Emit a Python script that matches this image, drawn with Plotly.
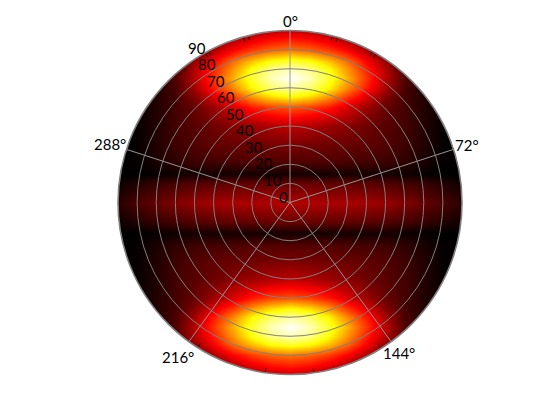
import numpy as np
import plotly.graph_objects as go

# Field values (0 = black, 0.375 = red, 0.75 = yellow, 1 = white)
x_knots = list(range(-90, 100, 10))
y_knots = [-90, -80, -74, -70, -65, -60, -55, -50, -40, -30, -22, -16, -10, 0,
           10, 15, 22, 30, 40, 50, 55, 60, 65, 70, 74, 80, 90]

def row(*half):
    # half: values at x = 0, 10, ... 90; mirrored left
    half = list(half)
    return half[:0:-1] + half

z_rows = [
    row(.30, .28, .23, .16, .09, .04, .01, .00, .00, .00),  # -90
    row(.55, .52, .46, .37, .25, .13, .05, .02, .00, .00),  # -80
    row(.80, .76, .66, .53, .37, .22, .09, .03, .01, .00),  # -74
    row(.93, .88, .76, .59, .42, .26, .11, .04, .01, .00),  # -70
    row(1.0, .93, .80, .63, .45, .27, .12, .05, .02, .00),  # -65
    row(.91, .85, .74, .57, .41, .24, .11, .05, .02, .00),  # -60
    row(.74, .69, .59, .45, .32, .19, .10, .05, .02, .00),  # -55
    row(.50, .47, .41, .32, .23, .15, .10, .05, .01, .00),  # -50
    row(.28, .26, .23, .20, .16, .13, .10, .05, .01, .00),  # -40
    row(.18, .17, .16, .15, .14, .12, .09, .05, .01, .00),  # -30
    row(.12, .12, .12, .11, .10, .09, .07, .04, .01, .00),  # -22
    row(.03, .03, .03, .03, .03, .03, .02, .01, .00, .00),  # -16
    row(.15, .15, .14, .14, .13, .12, .10, .08, .05, .02),  # -10
    row(.26, .26, .25, .25, .24, .22, .19, .15, .11, .06),  # 0
    row(.15, .15, .14, .14, .13, .12, .10, .08, .05, .02),  # 10
    row(.03, .03, .03, .03, .03, .03, .02, .01, .00, .00),  # 15
    row(.12, .12, .12, .11, .10, .09, .07, .04, .01, .00),  # 22
    row(.18, .17, .16, .15, .14, .12, .09, .05, .01, .00),  # 30
    row(.28, .26, .23, .20, .16, .13, .10, .05, .01, .00),  # 40
    row(.50, .47, .41, .32, .23, .15, .10, .05, .01, .00),  # 50
    row(.74, .69, .59, .45, .32, .19, .10, .05, .02, .00),  # 55
    row(.91, .85, .74, .57, .41, .24, .11, .04, .01, .00),  # 60
    row(1.0, .93, .80, .63, .45, .27, .12, .04, .01, .00),  # 65
    row(.93, .88, .76, .59, .42, .26, .11, .03, .01, .00),  # 70
    row(.80, .76, .66, .53, .37, .22, .09, .03, .01, .00),  # 74
    row(.55, .52, .46, .37, .25, .13, .05, .02, .00, .00),  # 80
    row(.30, .28, .23, .16, .09, .04, .01, .00, .00, .00),  # 90
]

r_ticks = [0, 10, 20, 30, 40, 50, 60, 70, 80, 90]
r_labels = ["0", "10", "20", "30", "40", "50", "60", "70", "80", "90"]
theta_ticks = [0, 72, 144, 216, 288]
theta_labels = ["0°", "72°", "144°", "216°", "288°"]
theta_label_r = [95, 97.6, 97.3, 99.8, 99.2]
rim_marks = [14.3, 16, 28.5, 30, 38.2, 148.2, 172, 188.3, 212.5, 321.6, 330.6, 331.8, 344.3, 346]

R_LABEL_ANGLE = 330
RING = "#808080"
SPOKE = "#969696"
FONT = "Lato"

hot = [[0, "rgb(0,0,0)"], [0.375, "rgb(255,0,0)"], [0.75, "rgb(255,255,0)"], [1, "rgb(255,255,255)"]]

W, H = 560, 420
PAGE = 8  # the page body adds this margin in front of the figure
CX, CY, RPX = 290 - PAGE, 202.5 - PAGE, 172
U = 90 / RPX  # data units per pixel

fig = go.Figure()

fig.add_trace(go.Heatmap(x=x_knots, y=y_knots, z=z_rows, zmin=0, zmax=1, zsmooth="best",
                         colorscale=hot, showscale=False, hoverinfo="skip"))

# White surround leaving only the disk of the field visible (one keyhole outline)
t = np.linspace(0, -2 * np.pi, 721)
xr = [170, 170, -170, -170, 170, 170]
yr = [0, 130, 130, -130, -130, 0]
fig.add_trace(go.Scatter(x=xr + list(90 * np.cos(t)) + [170],
                         y=yr + list(90 * np.sin(t)) + [0],
                         mode="none", fill="toself", fillcolor="white",
                         hoverinfo="skip", showlegend=False))

# Short rim marks
mr, mt = [], []
for a in rim_marks:
    mr += [87.6, 89.4, None]
    mt += [a, a, None]
fig.add_trace(go.Scatterpolar(r=mr, theta=mt, mode="lines", line=dict(color="#111111", width=1),
                              hoverinfo="skip", showlegend=False))

annotations = []
a0 = np.deg2rad(R_LABEL_ANGLE)
for r, s in zip(r_ticks, r_labels):
    annotations.append(dict(x=r * np.sin(a0), y=r * np.cos(a0), text=s, xref="x", yref="y",
                            showarrow=False, xanchor="center", yanchor="middle",
                            xshift=-7, yshift=6,
                            font=dict(family=FONT, size=15, color="black")))
for a, r, s in zip(theta_ticks, theta_label_r, theta_labels):
    ar = np.deg2rad(a)
    annotations.append(dict(x=r * np.sin(ar), y=r * np.cos(ar), text=s, xref="x", yref="y",
                            showarrow=False, xanchor="center", yanchor="middle",
                            font=dict(family=FONT, size=15, color="black")))

fig.update_layout(
    width=W, height=H,
    margin=dict(l=0, r=0, t=0, b=0),
    paper_bgcolor="white", plot_bgcolor="white",
    showlegend=False,
    annotations=annotations,
    xaxis=dict(visible=False, range=[-CX * U, (W - CX) * U]),
    yaxis=dict(visible=False, range=[-(H - CY) * U, CY * U]),
    polar=dict(
        domain=dict(x=[(CX - RPX) / W, (CX + RPX) / W],
                    y=[1 - (CY + RPX) / H, 1 - (CY - RPX) / H]),
        bgcolor="rgba(0,0,0,0)",
        radialaxis=dict(range=[0, 90], tickvals=r_ticks, showticklabels=False, ticks="",
                        showline=False, showgrid=True, gridcolor=RING, gridwidth=1.4),
        angularaxis=dict(rotation=90, direction="clockwise", tickmode="array",
                         tickvals=theta_ticks, ticktext=theta_labels, ticks="",
                         showticklabels=False,
                         showline=True, linecolor=RING, linewidth=1.6,
                         showgrid=True, gridcolor=SPOKE, gridwidth=1),
    ),
)

fig.write_html("out.html", config=dict(displayModeBar=False))
